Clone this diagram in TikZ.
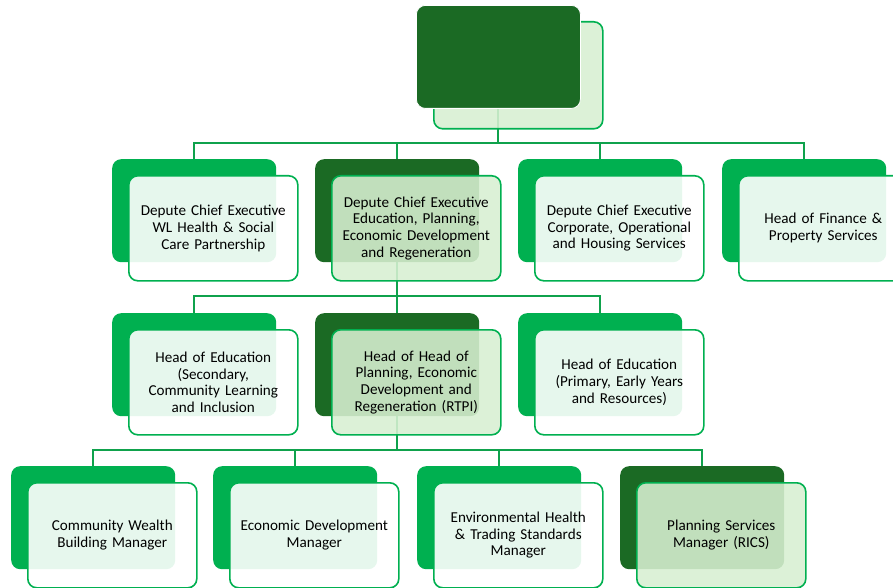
\documentclass[tikz,border=0pt]{standalone}
\usepackage{fontspec}
\setmainfont{Carlito}
\definecolor{brightgreen}{HTML}{00B050}
\definecolor{darkgreen}{HTML}{1B6A24}
\definecolor{linegreen}{HTML}{0FA24C}
\definecolor{palegreen}{HTML}{D8F0D2}
\tikzset{
  backbox/.style={anchor=north west, minimum width=164bp, minimum height=103bp,
    inner sep=0pt, rounded corners=9bp, fill=brightgreen},
  darkback/.style={fill=darkgreen},
  frontbox/.style={anchor=north west, minimum width=169bp, minimum height=105bp,
    inner sep=0pt, rounded corners=9bp, draw=brightgreen, line width=1.6bp,
    fill=white, fill opacity=0.9, text opacity=1, text width=166bp, align=center,
    font=\fontsize{15.2}{16.8}\selectfont},
  palefront/.style={fill=palegreen, fill opacity=0.88},
  link/.style={draw=linegreen, line width=1.6bp}
}
% one post: a back card and an offset front card that carries the title
\newcommand\orgunit[6]{%
  \node[backbox,#4] (#1b) at (#2,#3) {};
  \node[frontbox,#5] (#1) at ({#2+16},{#3+16}) {#6};
}
\begin{document}
\begin{tikzpicture}[x=1bp,y=-1bp]
\clip (0,0) rectangle (893,588);
\fill[white] (0,0) rectangle (893,588);

% junction points of the connector buses
\coordinate (j1) at (498,143);
\coordinate (j2) at (397,296);
\coordinate (j3) at (397,450);

% hidden anchors for the connectors
\coordinate (topc) at (498,56);
\coordinate (a1) at (194,159);
\coordinate (a2) at (397,159);
\coordinate (a3) at (600,159);
\coordinate (a4) at (804,159);
\coordinate (b1) at (194,313);
\coordinate (b2) at (397,313);
\coordinate (b3) at (600,313);
\coordinate (c1) at (93,466);
\coordinate (c2) at (295,466);
\coordinate (c3) at (499,466);
\coordinate (c4) at (702,466);
\coordinate (a2c) at (397,210);
\coordinate (b2c) at (397,364);

% connectors, drawn beneath the cards
\draw[link] (topc) -- (j1);
\draw[link] (a1) |- (j1) -| (a4);
\draw[link] (a2) -- (a2 |- j1);
\draw[link] (a3) -- (a3 |- j1);
\draw[link] (a2c) -- (j2);
\draw[link] (b1) |- (j2) -| (b3);
\draw[link] (b2) -- (j2);
\draw[link] (b2c) -- (j3);
\draw[link] (c1) |- (j3) -| (c4);
\draw[link] (c2) -- (c2 |- j3);
\draw[link] (c3) -- (c3 |- j3);

% top post: pale card behind, dark card in front
\node[frontbox,palefront,minimum height=107bp] (topf) at (433,21) {};
\node[backbox,darkback,draw=white,line width=0.8bp] (top) at (416,5) {};

% second row
\orgunit{dce1}{112}{159}{}{}{Depute Chief Executive\\WL Health \& Social\\Care Partnership}
\orgunit{dce2}{315}{159}{darkback}{palefront}{Depute Chief Executive\\Education, Planning,\\Economic Development\\and Regeneration}
\orgunit{dce3}{518}{159}{}{}{Depute Chief Executive\\Corporate, Operational\\and Housing Services}
\orgunit{hfin}{722}{159}{}{}{Head of Finance \&\\Property Services}

% third row
\orgunit{hed1}{112}{313}{}{}{Head of Education\\(Secondary,\\Community Learning\\and Inclusion}
\orgunit{hplan}{315}{313}{darkback}{palefront}{Head of Head of\\Planning, Economic\\Development and\\Regeneration (RTPI)}
\orgunit{hed2}{518}{313}{}{}{Head of Education\\(Primary, Early Years\\and Resources)}

% fourth row
\orgunit{cwb}{11}{466}{}{}{Community Wealth\\Building Manager}
\orgunit{ecd}{213}{466}{}{}{Economic Development\\Manager}
\orgunit{env}{417}{466}{}{}{Environmental Health\\\& Trading Standards\\Manager}
\orgunit{psm}{620}{466}{darkback}{palefront}{Planning Services\\Manager (RICS)}
\end{tikzpicture}
\end{document}
